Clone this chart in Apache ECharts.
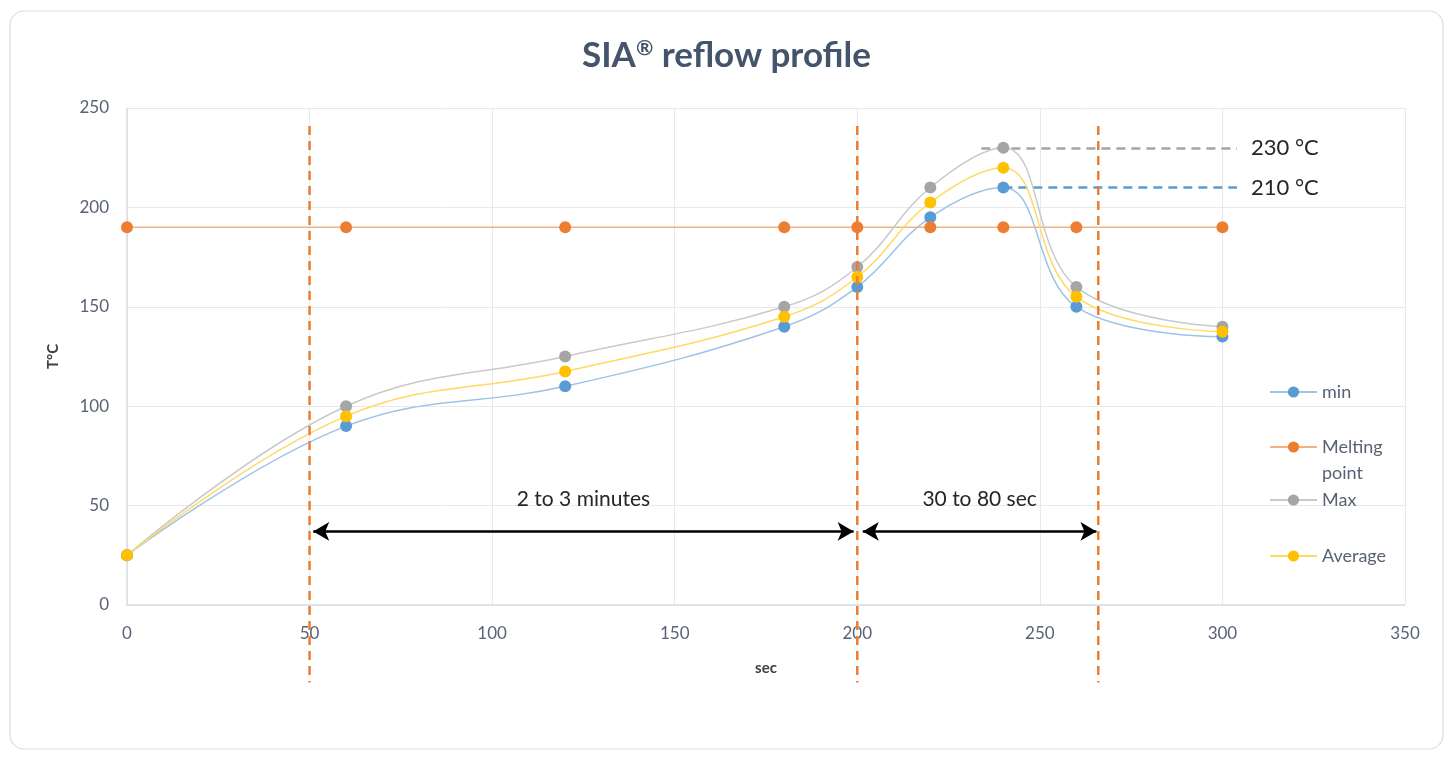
<!DOCTYPE html>
<html><head><meta charset="utf-8">
<script src="https://cdn.jsdelivr.net/npm/echarts@6/dist/echarts.min.js"></script>
<style>html,body{margin:0;padding:0;background:#fff}#c{width:1453px;height:758px}</style>
</head><body><div id="c"></div>
<script>
const times = [0, 60, 120, 180, 200, 220, 240, 260, 300];
const minVals = [25, 90, 110, 140, 160, 195, 210, 150, 135];
const meltVals = [190, 190, 190, 190, 190, 190, 190, 190, 190];
const maxVals = [25, 100, 125, 150, 170, 210, 230, 160, 140];
const avgVals = [25, 95, 117.5, 145, 165, 202.5, 220, 155, 137.5];
const zoneBounds = [50, 200, 266];
const zoneYTop = 241, zoneYBottom = -39;
const arrow1 = [[51, 37], [199, 37]];
const arrow2 = [[201.5, 37], [265.5, 37]];
const arrowLabels = ['2 to 3 minutes', '30 to 80 sec'];
const peakMax = [[234, 230], [304, 230]];
const peakMin = [[240, 210], [304, 210]];
const peakLabels = ['230 °C', '210 °C'];
const seriesNames = ['min', 'Melting point', 'Max', 'Average'];

const pair = (vals) => times.map((t, i) => [t, vals[i]]);
const FONT = 'Lato, "Open Sans", sans-serif';

const legendTops = [374, 403, 482, 538];
const legends = seriesNames.map((n, i) => ({
  orient: 'vertical', left: 1264, top: legendTops[i],
  itemWidth: 47, itemHeight: 14, itemGap: 0,
  data: [n],
  formatter: s => s === 'Melting point' ? ' \nMelting\npoint' : s,
  textStyle: { color: '#596273', fontSize: 18, lineHeight: 26, fontFamily: FONT }
}));

const chart = echarts.init(document.getElementById('c'));
chart.setOption({
  backgroundColor: '#fff',
  animation: false,
  textStyle: { fontFamily: FONT },
  graphic: [{
    type: 'rect', shape: { x: 10, y: 11, width: 1433, height: 738, r: 14 },
    style: { fill: 'none', stroke: '#DADDE2', lineWidth: 1.2 }, silent: true, z: -10
  }],
  title: {
    text: '{a|SIA}{s|®}{a| reflow profile}', left: 'center', top: 33,
    textStyle: {
      rich: {
        a: { fontSize: 35, fontWeight: 'bold', color: '#44546A', fontFamily: FONT },
        s: { fontSize: 21, fontWeight: 'bold', color: '#44546A', fontFamily: FONT, padding: [0, 0, 14, 0] }
      }
    }
  },
  grid: { left: 127, right: 48, top: 108, bottom: 153 },
  xAxis: {
    type: 'value', min: 0, max: 350, interval: 50,
    name: 'sec', nameLocation: 'middle', nameGap: 56,
    nameTextStyle: { fontWeight: 'bold', fontSize: 15, color: '#404040' },
    axisLine: { show: true, lineStyle: { color: '#D9DEE6', width: 1.5 } },
    axisTick: { show: false },
    axisLabel: { color: '#596273', fontSize: 17, margin: 20 },
    splitLine: { show: true, lineStyle: { color: '#E6E9EE' } }
  },
  yAxis: {
    type: 'value', min: 0, max: 250, interval: 50,
    name: 'T°C', nameLocation: 'middle', nameGap: 66, nameRotate: 90,
    nameTextStyle: { fontWeight: 'bold', fontSize: 15, color: '#404040' },
    axisLine: { show: true, lineStyle: { color: '#D9DEE6', width: 1.5 } },
    axisTick: { show: false },
    axisLabel: { color: '#596273', fontSize: 17, margin: 18 },
    splitLine: { show: true, lineStyle: { color: '#E6E9EE' } }
  },
  legend: legends,
  series: [
    {
      name: 'min', type: 'line', data: pair(minVals), smooth: 0.4,
      symbol: 'circle', symbolSize: 12, z: 3,
      itemStyle: { color: '#5B9BD5' }, lineStyle: { color: '#9DC3E6', width: 1.5 }
    },
    {
      name: 'Melting point', type: 'line', data: pair(meltVals),
      symbol: 'circle', symbolSize: 12, z: 4,
      itemStyle: { color: '#ED7D31' }, lineStyle: { color: '#F4B183', width: 1.5 }
    },
    {
      name: 'Max', type: 'line', data: pair(maxVals), smooth: 0.4,
      symbol: 'circle', symbolSize: 12, z: 5,
      itemStyle: { color: '#A5A5A5' }, lineStyle: { color: '#C9C9C9', width: 1.5 }
    },
    {
      name: 'Average', type: 'line', data: pair(avgVals), smooth: 0.4,
      symbol: 'circle', symbolSize: 12, z: 6,
      itemStyle: { color: '#FFC000' }, lineStyle: { color: '#FFD966', width: 1.5 }
    },
    {
      name: 'zones', type: 'custom', clip: false, z: 8, silent: true,
      data: zoneBounds.map(x => [x]),
      renderItem: (params, api) => {
        const a = api.coord([api.value(0), zoneYTop]);
        const b = api.coord([api.value(0), zoneYBottom]);
        return {
          type: 'line', shape: { x1: a[0], y1: a[1], x2: b[0], y2: b[1] },
          style: { stroke: '#ED7D31', lineWidth: 2.5, lineDash: [9, 6] }
        };
      }
    },
    {
      name: 'annotations', type: 'line', data: [], silent: true, z: 9,
      markLine: {
        silent: true, symbol: ['arrow', 'arrow'], symbolSize: [14, 16], precision: 2,
        lineStyle: { color: '#000', width: 2.5, type: 'solid' },
        label: {
          show: true, position: 'insideMiddleTop', distance: 22,
          fontSize: 21, color: '#262626', fontFamily: FONT,
          formatter: p => p.name
        },
        data: [
          [{ coord: arrow1[0], name: arrowLabels[0] }, { coord: arrow1[1] }],
          [{ coord: arrow2[0], name: arrowLabels[1] }, { coord: arrow2[1] }]
        ]
      }
    },
    {
      name: 'peaks', type: 'line', data: [], silent: true, z: 2,
      markLine: {
        silent: true, symbol: ['none', 'none'], precision: 2,
        label: {
          show: true, position: 'end', distance: 14,
          fontSize: 22, color: '#262626', fontFamily: FONT,
          formatter: p => p.name
        },
        data: [
          [{ coord: peakMax[0], name: peakLabels[0], lineStyle: { color: '#A5A5A5', width: 2.5, type: [9, 6] } }, { coord: peakMax[1] }],
          [{ coord: peakMin[0], name: peakLabels[1], lineStyle: { color: '#5B9BD5', width: 2.5, type: [9, 6] } }, { coord: peakMin[1] }]
        ]
      }
    }
  ]
});
</script></body></html>
